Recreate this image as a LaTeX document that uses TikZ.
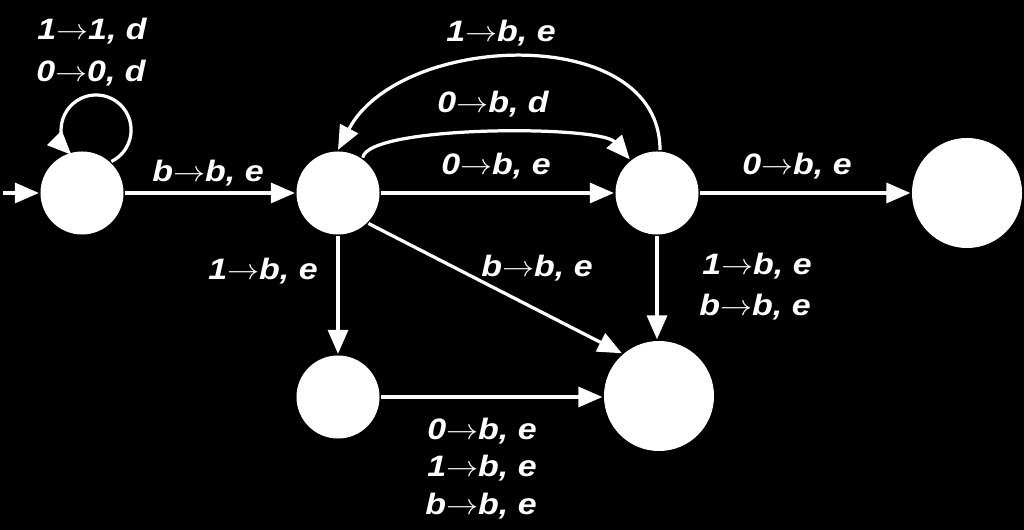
\documentclass[tikz,border=0pt]{standalone}
\usepackage{fontspec}
\setmainfont{Liberation Sans}[FakeStretch=1.15]
\usepackage{graphicx}
\usetikzlibrary{arrows.meta}

\newcommand{\tto}{\scalebox{1.1}[1]{$\rightarrow$}}
\newcommand{\lblfont}{\fontsize{21}{25}\selectfont\bfseries\itshape}

\tikzset{
  state/.style={circle, fill=white, inner sep=0pt, minimum size=2.075cm},
  bigstate/.style={state, minimum size=2.75cm},
  lbl/.style={text=white, font=\lblfont, anchor=base, inner sep=0pt}
}

\begin{document}
\begin{tikzpicture}[x=0.025cm,y=0.025cm,line width=2.3pt,white,
    >={Triangle[length=0.6cm,width=0.5cm]}]
        % background and frame
        \fill[black] (0,0) rectangle (1024,530);
        \useasboundingbox (0,0) rectangle (1024,530);

        % the states
        \node[state] (q0) at (82,337) {};
        \node[state] (q1) at (338,337) {};
        \node[state] (q2) at (657,337) {};
        \node[bigstate] (q3) at (967,337) {};
        \node[state] (q4) at (338,133) {};
        \node[bigstate] (q5) at (659,134) {};
        \coordinate (start) at (3,337);

        % the transitions
        \draw[->] (start) -- (q0);
        \draw[->] (q0.47) arc[start angle=-64, end angle=225, radius=0.875cm];
        \draw[->] (q0) -- (q1);
        \draw[->] (q1) -- (q2);
        \draw[->] (q1.55) .. controls (368,405) and (600,405) .. (q2.129);
        \draw[->] (q2.86) .. controls (660,508) and (400,498) .. (q1.90);
        \draw[->] (q2) -- (q3);
        \draw[->] (q1) -- (q4);
        \draw[->] (q1.-45) -- (q5.131);
        \draw[->] (q2.south) -- (q2.south |- q5.north);
        \draw[->] (q4) -- (q4 -| q5.west);

        % the labels
        \node[lbl] (loopa) at (92,490) {1\tto1, d};
        \node[lbl] (loopb) at (91,448) {0\tto0, d};
        \node[lbl] (l01) at (208,348) {b\tto b, e};
        \node[lbl] (l12a) at (496,355) {0\tto b, e};
        \node[lbl] (l12b) at (493,417) {0\tto b, d};
        \node[lbl] (l21) at (501,488) {1\tto b, e};
        \node[lbl] (l23) at (797,355) {0\tto b, e};
        \node[lbl] (l14) at (263,250) {1\tto b, e};
        \node[lbl] (l15) at (537,253) {b\tto b, e};
        \node[lbl] (l25a) at (757,255) {1\tto b, e};
        \node[lbl] (l25b) at (755,214) {b\tto b, e};
        \node[lbl] (l45a) at (482,90) {0\tto b, e};
        \node[lbl] (l45b) at (482,53) {1\tto b, e};
        \node[lbl] (l45c) at (481,15) {b\tto b, e};
\end{tikzpicture}
\end{document}
